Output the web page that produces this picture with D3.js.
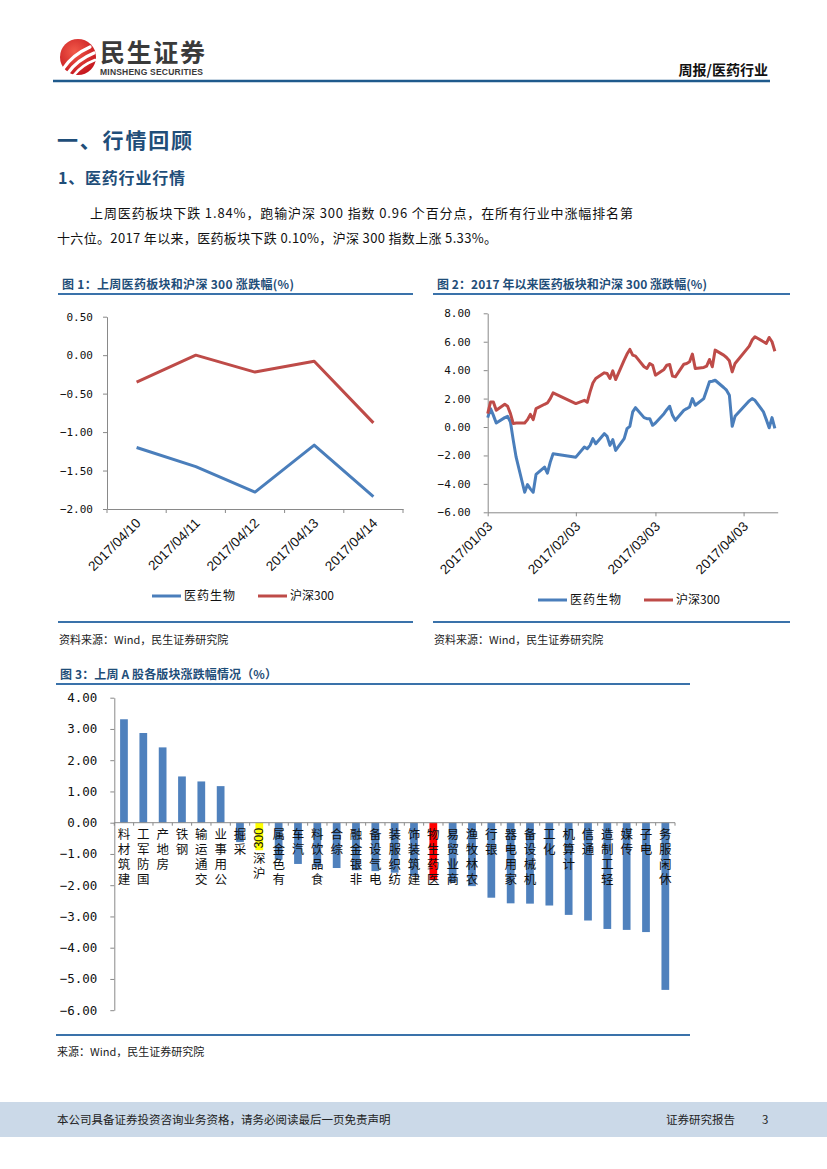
<!DOCTYPE html>
<html lang="zh">
<head>
<meta charset="UTF-8">
<title>医药行业周报</title>
<script src="https://d3js.org/d3.v7.min.js"></script>
<style>
  body { margin: 0; background: #fff; }
  svg text { font-family: "Noto Sans CJK SC", "Liberation Sans", sans-serif; }
  .vlabel { writing-mode: vertical-rl; text-orientation: upright; }
</style>
</head>
<body>
<svg id="page" width="827" height="1169"></svg>
<script>
// ---------- data ----------
const names = ["医药生物", "沪深300"];

// 图1: last week
const days1 = ["2017/04/10", "2017/04/11", "2017/04/12", "2017/04/13", "2017/04/14"];
const pharma1 = [-1.20, -1.45, -1.78, -1.17, -1.84];
const hs1 = [-0.35, 0.00, -0.22, -0.08, -0.88];
const ticks1 = [0.5, 0, -0.5, -1, -1.5, -2];

// 图2: since start of 2017 (trading days)
const days2 = [
  "2017-01-03","2017-01-04","2017-01-05","2017-01-06","2017-01-09","2017-01-10","2017-01-11","2017-01-12","2017-01-13",
  "2017-01-16","2017-01-17","2017-01-18","2017-01-19","2017-01-20","2017-01-23","2017-01-24","2017-01-25","2017-01-26",
  "2017-02-03","2017-02-06","2017-02-07","2017-02-08","2017-02-09","2017-02-10","2017-02-13","2017-02-14","2017-02-15",
  "2017-02-16","2017-02-17","2017-02-20","2017-02-21","2017-02-22","2017-02-23","2017-02-24","2017-02-27","2017-02-28",
  "2017-03-01","2017-03-02","2017-03-03","2017-03-06","2017-03-07","2017-03-08","2017-03-09","2017-03-10","2017-03-13",
  "2017-03-14","2017-03-15","2017-03-16","2017-03-17","2017-03-20","2017-03-21","2017-03-22","2017-03-23","2017-03-24",
  "2017-03-27","2017-03-28","2017-03-29","2017-03-30","2017-03-31","2017-04-05","2017-04-06","2017-04-07","2017-04-10",
  "2017-04-11","2017-04-12","2017-04-13","2017-04-14"
];
const pharma2 = [
  0.66, 1.29, 0.82, 0.28, 0.66, 0.75, 0.35, -0.94, -2.12,
  -4.59, -4.05, -4.35, -4.59, -3.34, -2.82, -3.25, -2.47, -1.88,
  -2.12, -1.41, -1.53, -1.29, -0.82, -1.18, -0.47, -0.66, -1.29,
  -0.89, -1.65, -0.82, -0.12, 0.05, 1.06, 1.36, 0.66, 0.59,
  0.59, 0.12, 0.28, 0.94, 1.22, 1.46, 0.82, 0.47, 1.18,
  1.29, 1.41, 2.00, 1.53, 2.00, 2.59, 3.18, 3.22, 3.29,
  2.78, 2.59, 2.24, 0.05, 0.75, 1.84, 2.00, 1.88, 1.06,
  0.52, -0.05, 0.66, -0.10
];
const hs2 = [
  0.94, 1.76, 1.76, 1.18, 1.60, 1.46, 0.94, 0.24, 0.28,
  0.28, 0.52, 0.89, 0.52, 1.29, 1.60, 1.69, 2.00, 2.40,
  1.65, 1.88, 1.74, 2.47, 3.10, 3.41, 3.81, 3.76, 3.41,
  3.95, 3.34, 4.71, 5.13, 5.46, 5.06, 4.99, 4.24, 4.12,
  4.47, 4.35, 3.65, 4.05, 4.35, 4.40, 3.58, 3.53, 4.42,
  4.47, 4.59, 5.13, 4.12, 4.19, 4.28, 4.75, 4.24, 5.41,
  5.06, 4.89, 4.66, 3.88, 4.47, 5.69, 6.12, 6.35, 6.00,
  5.88, 6.30, 6.00, 5.33
];
const ticks2y = [8, 6, 4, 2, 0, -2, -4, -6];
const ticks2x = ["2017-01-03", "2017-02-03", "2017-03-03", "2017-04-03"];

// 图3: sectors last week
const cats3 = ["建筑材料","国防军工","房地产","钢铁","交通运输","公用事业","采掘","沪深300","有色金属","汽车",
  "食品饮料","综合","非银金融","电气设备","纺织服装","建筑装饰","医药生物","商业贸易","农林牧渔","银行",
  "家用电器","机械设备","化工","计算机","通信","轻工制造","传媒","电子","休闲服务"];
const vals3 = [3.31, 2.87, 2.41, 1.48, 1.32, 1.17, -0.62, -0.88, -1.18, -1.32,
  -1.42, -1.45, -1.52, -1.55, -1.60, -1.70, -1.84, -1.92, -2.03, -2.40,
  -2.58, -2.59, -2.65, -2.95, -3.13, -3.40, -3.43, -3.50, -5.35];
const ticks3 = [4, 3, 2, 1, 0, -1, -2, -3, -4, -5, -6];

// ---------- page ----------
const BLUE = "#4A7EBB", RED = "#BE4B48", AXIS = "#898989", NAVY = "#1F4E79", RULE = "#3A72AA";
const MONO = "'DejaVu Sans Mono', monospace", SANS = "'Liberation Sans', Arial, sans-serif";
const svg = d3.select("#page");
svg.append("rect").attr("width", 827).attr("height", 1169).attr("fill", "#fff");

// header logo
const defs = svg.append("defs");
const lg = defs.append("radialGradient").attr("id", "lg").attr("cx", "40%").attr("cy", "35%").attr("r", "70%");
lg.append("stop").attr("offset", "0%").attr("stop-color", "#F25A4A");
lg.append("stop").attr("offset", "100%").attr("stop-color", "#C3141C");
svg.append("circle").attr("cx", 78).attr("cy", 57).attr("r", 18).attr("fill", "url(#lg)");
[["M63,69 Q72,55 90,47", 3.2], ["M68,73 Q77,60 94,53", 3.2], ["M74,75 Q82,65 95,60", 2.6]].forEach(p => {
  svg.append("path").attr("d", p[0]).attr("fill", "none").attr("stroke", "#fff")
    .attr("stroke-width", p[1]).attr("stroke-linecap", "round");
});
svg.append("text").attr("x", 100).attr("y", 62).attr("font-size", 25).attr("font-weight", 700)
  .attr("fill", "#3a3a3a").attr("textLength", 105).text("民生证券");
svg.append("text").attr("x", 100).attr("y", 75).attr("font-size", 8.5).attr("font-weight", 700)
  .style("font-family", SANS).attr("fill", "#3a3a3a").attr("textLength", 103).text("MINSHENG SECURITIES");
svg.append("text").attr("x", 768).attr("y", 75).attr("text-anchor", "end").attr("font-size", 14)
  .attr("font-weight", 700).attr("fill", "#111").text("周报/医药行业");
svg.append("line").attr("x1", 53).attr("x2", 770).attr("y1", 81).attr("y2", 81)
  .attr("stroke", "#1F5A8C").attr("stroke-width", 2.5);

// headings and paragraph
svg.append("text").attr("x", 57).attr("y", 148).attr("font-size", 21).attr("font-weight", 700)
  .attr("fill", NAVY).attr("textLength", 135).text("一、行情回顾");
svg.append("text").attr("x", 58).attr("y", 184).attr("font-size", 16).attr("font-weight", 700)
  .attr("fill", NAVY).attr("textLength", 127).text("1、医药行业行情");
svg.append("text").attr("x", 90).attr("y", 218).attr("font-size", 13).attr("fill", "#111")
  .attr("textLength", 543).text("上周医药板块下跌 1.84%，跑输沪深 300 指数 0.96 个百分点，在所有行业中涨幅排名第");
svg.append("text").attr("x", 57).attr("y", 243).attr("font-size", 13).attr("fill", "#111")
  .attr("textLength", 440).text("十六位。2017 年以来，医药板块下跌 0.10%，沪深 300 指数上涨 5.33%。");

// figure frames
function frame(x1, x2, yTitle, yTop, yBottom, title, titleLen, source, ySource) {
  svg.append("text").attr("x", x1 + 4).attr("y", yTitle).attr("font-size", 12).attr("font-weight", 700)
    .attr("fill", NAVY).attr("textLength", titleLen).text(title);
  svg.append("line").attr("x1", x1).attr("x2", x2).attr("y1", yTop).attr("y2", yTop)
    .attr("stroke", RULE).attr("stroke-width", 2);
  svg.append("line").attr("x1", x1).attr("x2", x2).attr("y1", yBottom).attr("y2", yBottom)
    .attr("stroke", RULE).attr("stroke-width", 2);
  svg.append("text").attr("x", x1 + 1).attr("y", ySource).attr("font-size", 11).attr("fill", "#222").text(source);
}
frame(58, 413, 289, 294, 622, "图 1：上周医药板块和沪深 300 涨跌幅(%)", 232, "资料来源：Wind，民生证券研究院", 644);
frame(433, 790, 289, 294, 622, "图 2：2017 年以来医药板块和沪深 300 涨跌幅(%)", 270, "资料来源：Wind，民生证券研究院", 644);
frame(56, 690, 679, 684, 1035, "图 3：上周 A 股各版块涨跌幅情况（%）", 217, "来源：Wind，民生证券研究院", 1056);

function styleAxis(g, font, size) {
  g.selectAll("path,line").attr("stroke", AXIS).attr("stroke-width", 1);
  g.selectAll("text").style("font-family", font).attr("font-size", size).attr("fill", "#111");
}

function legend(x, y) {
  [[BLUE, names[0], 0], [RED, names[1], 106]].forEach(([c, t, dx]) => {
    svg.append("line").attr("x1", x + dx).attr("x2", x + dx + 29).attr("y1", y).attr("y2", y)
      .attr("stroke", c).attr("stroke-width", 3);
    svg.append("text").attr("x", x + dx + 32).attr("y", y).attr("dy", "0.35em").attr("font-size", 12)
      .attr("fill", "#111").attr("letter-spacing", dx ? 0 : 1).text(t);
  });
}

function slantLabels(g) {
  g.selectAll(".tick text").attr("text-anchor", "end").attr("dy", 0).attr("y", 0)
    .attr("transform", "translate(5,15) rotate(-45)");
}

// ---------- 图1 ----------
const x1 = d3.scaleBand().domain(days1).range([107, 403]);
const y1 = d3.scaleLinear().domain([-2, 0.5]).range([509, 316.7]);
svg.append("g").attr("transform", "translate(107,0)")
  .call(d3.axisLeft(y1).tickValues(ticks1).tickFormat(d3.format(".2f")).tickSize(4).tickSizeOuter(0).tickPadding(10))
  .call(g => styleAxis(g, MONO, 11));
const gx1 = svg.append("g").attr("transform", "translate(0,509)")
  .call(d3.axisBottom(x1).tickSize(0).tickSizeOuter(0))
  .call(g => styleAxis(g, SANS, 13.5))
  .call(slantLabels);
gx1.selectAll(".bnd").data(days1.map(d => x1(d)).concat([x1.range()[1]])).enter().append("line")
  .attr("x1", d => d).attr("x2", d => d).attr("y1", 0).attr("y2", 4).attr("stroke", AXIS);
const line1 = d3.line().x((d, i) => x1(days1[i]) + x1.bandwidth() / 2).y(d => y1(d));
[[pharma1, BLUE], [hs1, RED]].forEach(([s, c]) => {
  svg.append("path").datum(s).attr("d", line1).attr("fill", "none").attr("stroke", c)
    .attr("stroke-width", 3).attr("stroke-linejoin", "round");
});
legend(152, 596);

// ---------- 图2 ----------
const parse = d3.timeParse("%Y-%m-%d");
const x2 = d3.scaleTime().domain([parse("2017-01-03"), parse("2017-04-15")]).range([487.7, 777.7]);
const y2 = d3.scaleLinear().domain([-6, 8]).range([512.3, 313.3]);
svg.append("g").attr("transform", "translate(487.7,0)")
  .call(d3.axisLeft(y2).tickValues(ticks2y).tickFormat(d3.format(".2f")).tickSize(4).tickSizeOuter(0).tickPadding(13))
  .call(g => styleAxis(g, MONO, 11));
svg.append("g").attr("transform", "translate(0,512.3)")
  .call(d3.axisBottom(x2).tickValues(ticks2x.map(parse)).tickFormat(d3.timeFormat("%Y/%m/%d"))
    .tickSize(4).tickSizeOuter(0))
  .call(g => styleAxis(g, SANS, 13.5))
  .call(slantLabels);
const line2 = d3.line().x((d, i) => x2(parse(days2[i]))).y(d => y2(d));
[[pharma2, BLUE], [hs2, RED]].forEach(([s, c]) => {
  svg.append("path").datum(s).attr("d", line2).attr("fill", "none").attr("stroke", c)
    .attr("stroke-width", 3).attr("stroke-linejoin", "round");
});
legend(538, 600);

// ---------- 图3 ----------
const x3 = d3.scaleBand().domain(cats3).range([114.3, 675]).paddingInner(0.6).paddingOuter(0.3);
const y3 = d3.scaleLinear().domain([-6, 4]).range([1010.2, 697.7]);
svg.append("g").attr("transform", "translate(114.3,0)")
  .call(d3.axisLeft(y3).tickValues(ticks3).tickFormat(d3.format(".2f")).tickSize(4).tickSizeOuter(0).tickPadding(13))
  .call(g => styleAxis(g, MONO, 12.5));
svg.append("g").selectAll("rect").data(cats3).enter().append("rect")
  .attr("x", d => x3(d)).attr("width", x3.bandwidth())
  .attr("y", (d, i) => Math.min(y3(vals3[i]), y3(0)))
  .attr("height", (d, i) => Math.abs(y3(vals3[i]) - y3(0)))
  .attr("fill", d => d === "沪深300" ? "#FFFF00" : d === "医药生物" ? "#FF0000" : "#4F81BD");
const y0 = y3(0);
const gx3 = svg.append("g");
gx3.append("line").attr("x1", 114.3).attr("x2", 675).attr("y1", y0).attr("y2", y0).attr("stroke", AXIS);
const step3 = x3.step();
gx3.selectAll(".bnd").data(d3.range(cats3.length + 1)).enter().append("line")
  .attr("x1", i => 114.3 + i * step3).attr("x2", i => 114.3 + i * step3)
  .attr("y1", y0).attr("y2", y0 + 3).attr("stroke", AXIS);
// category labels: upright characters read bottom-to-top, ending at the axis
cats3.forEach(c => {
  const cx = x3(c) + x3.bandwidth() / 2;
  let yc = y0 + 5;
  const latin = c.match(/[0-9A-Za-z]+$/);
  if (latin) {
    const len = latin[0].length * 7;
    gx3.append("text").attr("transform", `translate(${cx},${yc + len / 2}) rotate(-90)`)
      .attr("text-anchor", "middle").attr("dominant-baseline", "central")
      .style("font-family", SANS).attr("font-size", 12.5).attr("fill", "#111").text(latin[0]);
    yc += len + 3;
  }
  const han = Array.from(latin ? c.slice(0, latin.index) : c).reverse().join("");
  gx3.append("text").attr("class", "vlabel").attr("x", cx).attr("y", yc)
    .attr("font-size", 12.5).attr("letter-spacing", 2.5).attr("fill", "#111").text(han);
});

// ---------- footer ----------
svg.append("rect").attr("x", 0).attr("y", 1102).attr("width", 827).attr("height", 35).attr("fill", "#CBD9E8");
svg.append("text").attr("x", 57).attr("y", 1124).attr("font-size", 11.5).attr("fill", "#222")
  .text("本公司具备证券投资咨询业务资格，请务必阅读最后一页免责声明");
svg.append("text").attr("x", 666).attr("y", 1124).attr("font-size", 11.5).attr("fill", "#222").text("证券研究报告");
svg.append("text").attr("x", 762).attr("y", 1124).attr("font-size", 11.5).attr("fill", "#222").text("3");
</script>
</body>
</html>
